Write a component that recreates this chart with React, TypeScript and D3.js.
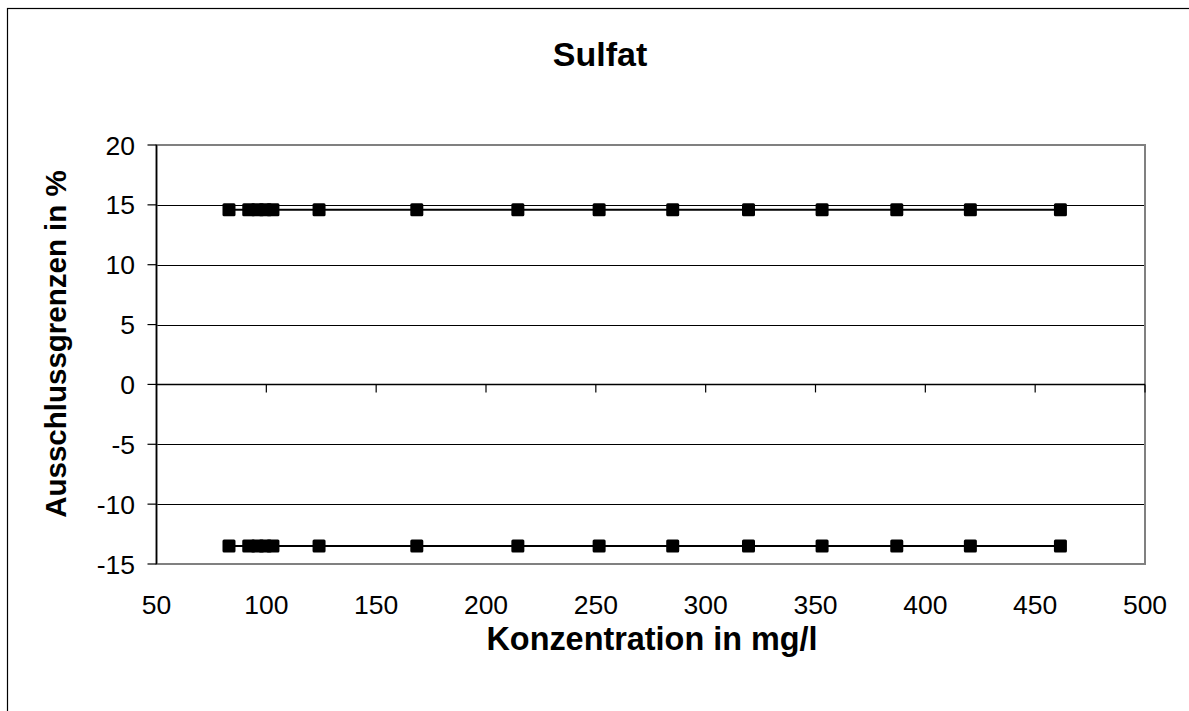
import React from "react";
import * as d3 from "d3";

const title = "Sulfat";
const xTitle = "Konzentration in mg/l";
const yTitle = "Ausschlussgrenzen in %";
const concentrations = [83, 92, 96, 99.5, 103, 124, 168.5, 214.5, 251.5, 285, 319.5, 353, 387, 420.5, 461.5];
const upperLimit = [14.6, 14.6, 14.6, 14.6, 14.6, 14.6, 14.6, 14.6, 14.6, 14.6, 14.6, 14.6, 14.6, 14.6, 14.6];
const lowerLimit = [-13.5, -13.5, -13.5, -13.5, -13.5, -13.5, -13.5, -13.5, -13.5, -13.5, -13.5, -13.5, -13.5, -13.5, -13.5];
const xTicks = [50, 100, 150, 200, 250, 300, 350, 400, 450, 500];
const yTicks = [-15, -10, -5, 0, 5, 10, 15, 20];

export default function App() {
  const W = 1189, H = 711;
  const left = 156.5, right = 1145, top = 145, bottom = 564;
  const x = d3.scaleLinear().domain([50, 500]).range([left, right]);
  const y = d3.scaleLinear().domain([-15, 20]).range([bottom, top]);
  const line = d3.line<[number, number]>().x(d => x(d[0])).y(d => y(d[1]));
  const series = [upperLimit, lowerLimit].map(vals => concentrations.map((c, i) => [c, vals[i]] as [number, number]));
  const font = "Arial, 'Liberation Sans', sans-serif";
  const ms = 13;
  return (
    <svg width={W} height={H} style={{ position: "absolute", left: 0, top: 0, background: "#fff" }} fontFamily={font}>
      <rect x={7.5} y={8.5} width={1200} height={720} fill="#fff" stroke="#000" strokeWidth={1.2} />
      <text x={600} y={66} textAnchor="middle" fontSize={34} fontWeight="bold">{title}</text>
      {/* gridlines */}
      {yTicks.filter(t => t !== 0 && t !== 20 && t !== -15).map(t => (
        <line key={"g" + t} x1={left} x2={right} y1={Math.round(y(t)) + 0.5} y2={Math.round(y(t)) + 0.5} stroke="#000" strokeWidth={1} />
      ))}
      <rect x={left} y={top} width={right - left} height={bottom - top} fill="none" stroke="#808080" strokeWidth={2} />
      {/* y axis */}
      <line x1={left} x2={left} y1={top} y2={bottom} stroke="#000" strokeWidth={1.5} />
      {yTicks.map(t => (
        <g key={"y" + t}>
          <line x1={left - 9} x2={left} y1={y(t)} y2={y(t)} stroke="#000" strokeWidth={1.2} />
          <text x={135} y={y(t)} dy="0.36em" textAnchor="end" fontSize={26.5}>{t}</text>
        </g>
      ))}
      {/* x axis at zero */}
      <line x1={left} x2={right} y1={y(0)} y2={y(0)} stroke="#000" strokeWidth={1.5} />
      {xTicks.map(t => (
        <g key={"x" + t}>
          {t !== 50 && <line x1={x(t)} x2={x(t)} y1={y(0)} y2={y(0) + 8} stroke="#000" strokeWidth={1.2} />}
          <text x={x(t)} y={614} textAnchor="middle" fontSize={26.5}>{t}</text>
        </g>
      ))}
      {/* series */}
      {series.map((s, si) => (
        <g key={"s" + si}>
          <path d={line(s) || ""} fill="none" stroke="#000" strokeWidth={2} />
          {s.map((d, i) => (
            <rect key={i} x={x(d[0]) - ms / 2} y={y(d[1]) - ms / 2} width={ms} height={ms} rx={1.5} fill="#000" />
          ))}
        </g>
      ))}
      <text x={652} y={650} textAnchor="middle" fontSize={32.4} fontWeight="bold">{xTitle}</text>
      <text transform={`translate(66,${344}) rotate(-90)`} textAnchor="middle" fontSize={29.5} fontWeight="bold">{yTitle}</text>
    </svg>
  );
}
